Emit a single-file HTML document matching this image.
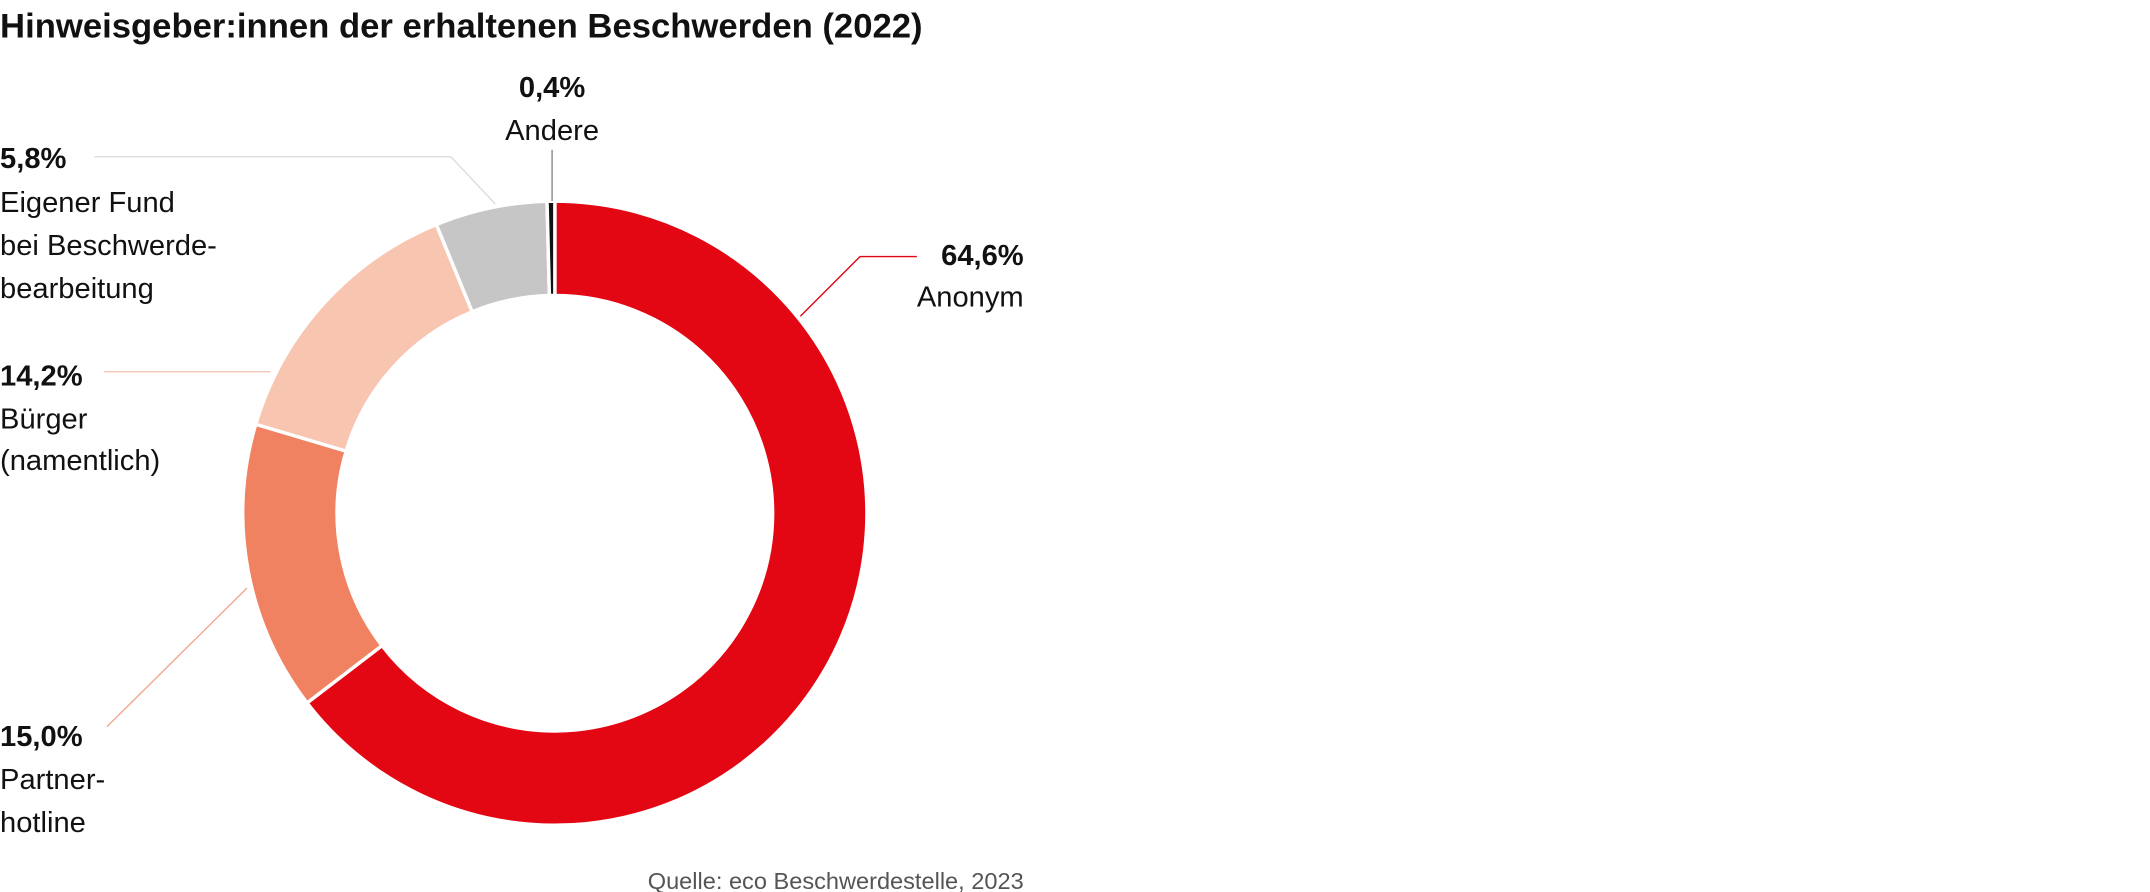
<!DOCTYPE html>
<html><head><meta charset="utf-8"><style>
html,body{margin:0;padding:0;background:#fff;}
svg{display:block;font-family:"Liberation Sans",sans-serif;}
</style></head><body>
<svg id="chart" width="2150" height="892" viewBox="0 0 1550 643.1" xmlns="http://www.w3.org/2000/svg">
<text x="0" y="27" font-size="25" font-weight="bold" fill="#111">Hinweisgeber:innen der erhaltenen Beschwerden (2022)</text>
<g id="slices"></g>
<g fill="none" stroke-width="1">
<polyline points="398,108 398,145" stroke="#888"/>
<polyline points="68,113 325,113 357,147" stroke="#ddd"/>
<polyline points="661,185 620,185 577,228" stroke="#e30613"/>
<polyline points="75,268 195,268" stroke="#f8c5b0"/>
<polyline points="77,524 178,424" stroke="#f0a88f"/>
</g>
<g font-size="21" fill="#111">
<text x="398" y="70" text-anchor="middle" font-weight="bold">0,4%</text>
<text x="398" y="101" text-anchor="middle">Andere</text>
<text x="0" y="121" font-weight="bold">5,8%</text>
<text x="0" y="153">Eigener Fund</text>
<text x="0" y="184">bei Beschwerde-</text>
<text x="0" y="215">bearbeitung</text>
<text x="738" y="191" text-anchor="end" font-weight="bold">64,6%</text>
<text x="738" y="221" text-anchor="end">Anonym</text>
<text x="0" y="278" font-weight="bold">14,2%</text>
<text x="0" y="309">Bürger</text>
<text x="0" y="339">(namentlich)</text>
<text x="0" y="538" font-weight="bold">15,0%</text>
<text x="0" y="569">Partner-</text>
<text x="0" y="600">hotline</text>
</g>
<text x="738" y="647" dy="-6" text-anchor="end" font-size="17" fill="#555">Quelle: eco Beschwerdestelle, 2023</text>
</svg>
<script>
const categories = ["Anonym", "Partner-hotline", "Bürger (namentlich)", "Eigener Fund", "Andere"];
const values = [64.6, 15.0, 14.2, 5.8, 0.4];
const colors = ["#e30613", "#f08262", "#f8c5b0", "#c6c6c6", "#111111"];
const cx = 400, cy = 370, R = 225, r = 157;
const g = document.getElementById('slices');
const total = values.reduce((a, b) => a + b, 0);
function pt(rad, a) { return [cx + rad * Math.sin(a), cy - rad * Math.cos(a)]; }
let acc = 0;
values.forEach((v, i) => {
  const a0 = acc / total * 2 * Math.PI;
  acc += v;
  const a1 = acc / total * 2 * Math.PI;
  const large = (a1 - a0) > Math.PI ? 1 : 0;
  const p0 = pt(R, a0), p1 = pt(R, a1), q1 = pt(r, a1), q0 = pt(r, a0);
  const d = `M${p0[0]},${p0[1]} A${R},${R} 0 ${large} 1 ${p1[0]},${p1[1]} L${q1[0]},${q1[1]} A${r},${r} 0 ${large} 0 ${q0[0]},${q0[1]} Z`;
  const path = document.createElementNS('http://www.w3.org/2000/svg', 'path');
  path.setAttribute('d', d);
  path.setAttribute('fill', colors[i]);
  path.setAttribute('stroke', '#fff');
  path.setAttribute('stroke-width', '2.5');
  
  
  g.appendChild(path);
});
</script>
</body></html>
